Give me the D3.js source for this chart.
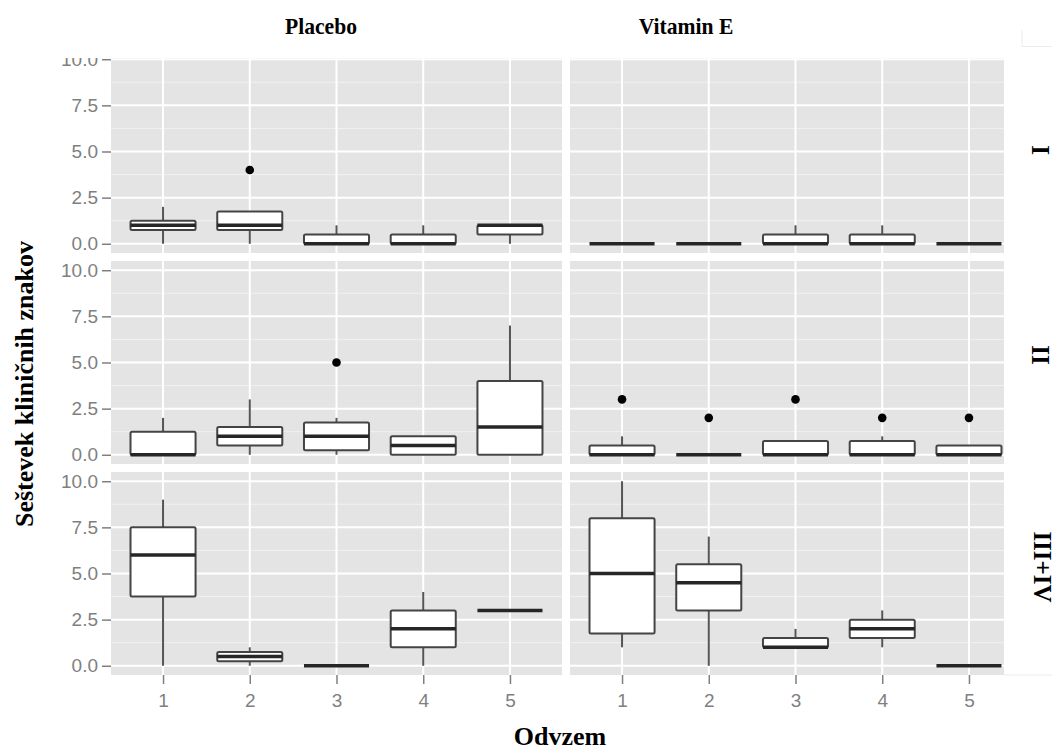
<!DOCTYPE html>
<html>
<head>
<meta charset="utf-8">
<script src="https://cdn.jsdelivr.net/npm/d3@7"></script>
<style>
  body { margin: 0; background: #fff; }
  .tick text { font-family: "Liberation Sans", Arial, sans-serif; font-size: 19px; fill: #7f7f7f; }
  .tick line { stroke: #7f7f7f; stroke-width: 1.5; }
  .title { font-family: "Liberation Serif", "Times New Roman", serif; font-weight: bold; font-size: 24px; fill: #000; }
  .label { font-family: "Liberation Serif", "Times New Roman", serif; font-weight: bold; font-size: 26px; fill: #000; }
  .strip { font-family: "Liberation Serif", "Times New Roman", serif; font-weight: bold; font-size: 25px; fill: #000; }
</style>
</head>
<body>
<div id="chart"></div>
<script>
const WIDTH = 1057, HEIGHT = 750;

// facets
const groups = ["Placebo", "Vitamin E"];
const stages = ["I", "II", "III+IV"];
const samples = [1, 2, 3, 4, 5];
const yTicks = [0, 2.5, 5, 7.5, 10];
const yMinor = [1.25, 3.75, 6.25, 8.75];

// box stats per sample: [lower whisker, q1, median, q3, upper whisker]
const placeboI   = [[0, 0.75, 1, 1.25, 2], [0, 0.75, 1, 1.75, 1.75], [0, 0, 0, 0.5, 1], [0, 0, 0, 0.5, 1], [0, 0.5, 1, 1, 1]];
const vitaminI   = [[0, 0, 0, 0, 0], [0, 0, 0, 0, 0], [0, 0, 0, 0.5, 1], [0, 0, 0, 0.5, 1], [0, 0, 0, 0, 0]];
const placeboII  = [[0, 0, 0, 1.25, 2], [0, 0.5, 1, 1.5, 3], [0, 0.25, 1, 1.75, 2], [0, 0, 0.5, 1, 1], [0, 0, 1.5, 4, 7]];
const vitaminII  = [[0, 0, 0, 0.5, 1], [0, 0, 0, 0, 0], [0, 0, 0, 0.75, 0.75], [0, 0, 0, 0.75, 1], [0, 0, 0, 0.5, 0.5]];
const placeboIII = [[0, 3.75, 6, 7.5, 9], [0, 0.25, 0.5, 0.75, 1], [0, 0, 0, 0, 0], [0, 1, 2, 3, 4], [3, 3, 3, 3, 3]];
const vitaminIII = [[1, 1.75, 5, 8, 10], [0, 3, 4.5, 5.5, 7], [1, 1, 1, 1.5, 2], [1, 1.5, 2, 2.5, 3], [0, 0, 0, 0, 0]];

// outliers: [sample, value]
const placeboIOut = [[2, 4]];
const placeboIIOut = [[3, 5]];
const vitaminIIOut = [[1, 3], [2, 2], [3, 3], [4, 2], [5, 2]];

const panels = [
  { row: 0, col: 0, boxes: placeboI, out: placeboIOut },
  { row: 0, col: 1, boxes: vitaminI, out: [] },
  { row: 1, col: 0, boxes: placeboII, out: placeboIIOut },
  { row: 1, col: 1, boxes: vitaminII, out: vitaminIIOut },
  { row: 2, col: 0, boxes: placeboIII, out: [] },
  { row: 2, col: 1, boxes: vitaminIII, out: [] }
];

const PL = 111, PW = 451, GAPX = 8, PH = 203;
const rowTop = [50, 261, 472];
const colLeft = [PL, PL + PW + GAPX];

const x = d3.scaleLinear().domain([0.4, 5.6]).range([0, PW]);
const y = d3.scaleLinear().domain([-0.5, 10.5]).range([PH, 0]);
const bw = x(1.375) - x(1); // half box width (0.75 of a slot)

const svg = d3.select("#chart").append("svg")
  .attr("width", WIDTH).attr("height", HEIGHT);

panels.forEach(p => {
  const g = svg.append("g")
    .attr("transform", `translate(${colLeft[p.col]},${rowTop[p.row]})`);

  g.append("rect").attr("width", PW).attr("height", PH).attr("fill", "#e4e4e4");

  g.selectAll(".minor").data(yMinor).join("line")
    .attr("x1", 0).attr("x2", PW)
    .attr("y1", d => y(d)).attr("y2", d => y(d))
    .attr("stroke", "#f1f1f1").attr("stroke-width", 1);
  g.selectAll(".major").data(yTicks).join("line")
    .attr("x1", 0).attr("x2", PW)
    .attr("y1", d => y(d)).attr("y2", d => y(d))
    .attr("stroke", "#fff").attr("stroke-width", 2);
  g.selectAll(".vgrid").data(samples).join("line")
    .attr("x1", d => x(d)).attr("x2", d => x(d))
    .attr("y1", 0).attr("y2", PH)
    .attr("stroke", "#fff").attr("stroke-width", 2);

  const b = g.selectAll(".box").data(p.boxes).join("g");
  b.append("line")
    .attr("x1", (d, i) => x(samples[i])).attr("x2", (d, i) => x(samples[i]))
    .attr("y1", d => y(d[4])).attr("y2", d => y(d[3]))
    .attr("stroke", "#555").attr("stroke-width", 2);
  b.append("line")
    .attr("x1", (d, i) => x(samples[i])).attr("x2", (d, i) => x(samples[i]))
    .attr("y1", d => y(d[1])).attr("y2", d => y(d[0]))
    .attr("stroke", "#555").attr("stroke-width", 2);
  b.append("rect")
    .attr("x", (d, i) => x(samples[i]) - bw)
    .attr("width", 2 * bw)
    .attr("y", d => y(d[3]))
    .attr("height", d => y(d[1]) - y(d[3]))
    .attr("rx", 1.5)
    .attr("fill", "#fff").attr("stroke", "#444").attr("stroke-width", 2);
  b.append("line")
    .attr("x1", (d, i) => x(samples[i]) - bw).attr("x2", (d, i) => x(samples[i]) + bw)
    .attr("y1", d => y(d[2])).attr("y2", d => y(d[2]))
    .attr("stroke", "#262626").attr("stroke-width", 3.5);

  g.selectAll(".out").data(p.out).join("circle")
    .attr("cx", d => x(d[0])).attr("cy", d => y(d[1]))
    .attr("r", 4.3).attr("fill", "#000");

  if (p.col === 0) {
    g.append("g")
      .call(d3.axisLeft(y).tickValues(yTicks).tickFormat(d3.format(".1f")).tickSize(9).tickPadding(4))
      .call(a => a.select(".domain").remove());
  }
  if (p.row === 2) {
    g.append("g").attr("transform", `translate(0,${PH})`)
      .call(d3.axisBottom(x).tickValues(samples).tickFormat(d3.format("d")).tickSize(9).tickPadding(10))
      .call(a => a.select(".domain").remove());
  }
});

// trimmed edges as in the reference
svg.append("rect").attr("x", 0).attr("y", 0).attr("width", WIDTH).attr("height", 58).attr("fill", "#fff");
svg.append("rect").attr("x", 1004).attr("y", 40).attr("width", WIDTH - 1004).attr("height", 640).attr("fill", "#fff");
svg.append("path").attr("d", "M1022,30V46.5H1052").attr("fill", "none").attr("stroke", "#ececec");
svg.append("line").attr("x1", 1004).attr("x2", 1052).attr("y1", 675).attr("y2", 675).attr("stroke", "#ececec");

// column titles (narrow, tall bold serif)
svg.append("text").attr("class", "title")
  .attr("transform", "translate(321,34) scale(0.9,1)")
  .attr("text-anchor", "middle").text(groups[0]);
svg.append("text").attr("class", "title")
  .attr("transform", "translate(686,34) scale(0.9,1)")
  .attr("text-anchor", "middle").text(groups[1]);

// row strips
const stripPos = [[1032, 150], [1032, 355], [1034, 567]];
stages.forEach((s, i) => {
  svg.append("text").attr("class", "strip")
    .attr("transform", `translate(${stripPos[i][0]},${stripPos[i][1]}) rotate(90)`)
    .attr("text-anchor", "middle").text(s);
});

// axis titles
svg.append("text").attr("class", "label")
  .attr("transform", "translate(33,384) rotate(-90)")
  .attr("text-anchor", "middle").text("Seštevek kliničnih znakov");
svg.append("text").attr("class", "label")
  .attr("x", 560).attr("y", 745)
  .attr("text-anchor", "middle").text("Odvzem");
</script>
</body>
</html>
